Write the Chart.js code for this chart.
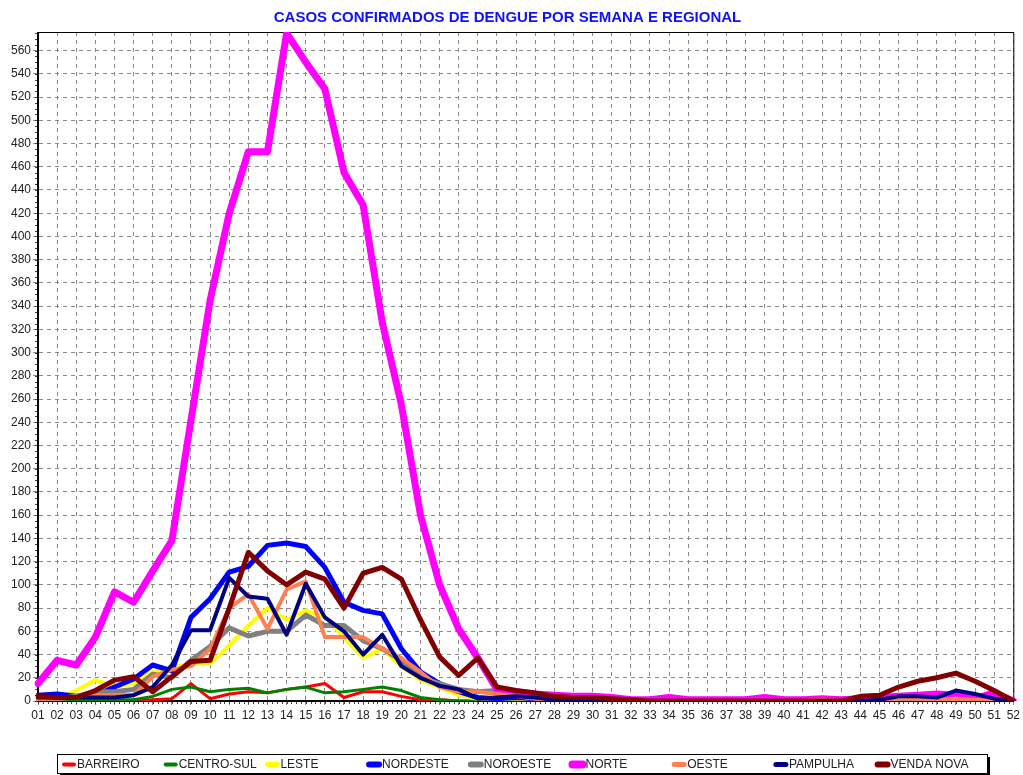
<!DOCTYPE html>
<html>
<head>
<meta charset="utf-8">
<script src="https://cdn.jsdelivr.net/npm/chart.js@4/dist/chart.umd.min.js"></script>
<style>
  html, body { margin: 0; padding: 0; background: #fff; }
  #wrap { width: 1023px; height: 775px; }
</style>
</head>
<body>
<div id="wrap"><canvas id="dengue_chart" width="1023" height="775"></canvas></div>
<script>
// semanas epidemiologicas
var semanas = [];
for (var s = 1; s <= 52; s++) semanas.push(s < 10 ? "0" + s : String(s));

var regionais = ["BARREIRO", "CENTRO-SUL", "LESTE", "NORDESTE", "NOROESTE", "NORTE", "OESTE", "PAMPULHA", "VENDA NOVA"];
var cores = ["#ff0000", "#008000", "#ffff00", "#0000ff", "#808080", "#ff00ff", "#ff7f50", "#000080", "#800000"];
var espessuras = [3, 3, 4, 5, 5, 7, 4, 4, 5];

// casos por semana (01..52)
var barreiro = [1, 1, 1, 0, 1, 0, 1, 2, 15, 2, 6, 8, 7, 10, 12, 15, 3, 8, 8, 4, 1, 1, 0, 0, 0, 0, 0, 0, 0, 0, 0, 0, 0, 0, 0, 0, 0, 0, 0, 0, 0, 0, 0, 0, 0, 0, 0, 0, 0, 0, 0, 0];
var centroSul = [1, 1, 1, 1, 1, 1, 4, 10, 12, 8, 10, 11, 7, 10, 12, 7, 8, 10, 12, 9, 3, 1, 0, 0, 0, 0, 0, 0, 0, 0, 0, 0, 0, 0, 0, 0, 0, 0, 0, 0, 0, 0, 0, 0, 0, 0, 0, 0, 0, 0, 0, 0];
var leste = [2, 3, 9, 18, 12, 15, 25, 29, 32, 32, 48, 65, 80, 70, 78, 72, 55, 37, 45, 30, 18, 12, 5, 2, 2, 2, 1, 0, 0, 0, 0, 0, 0, 0, 0, 0, 0, 0, 0, 0, 0, 0, 0, 0, 0, 1, 1, 0, 0, 0, 0, 0];
var nordeste = [5, 6, 4, 5, 12, 19, 31, 26, 72, 88, 111, 116, 134, 136, 133, 115, 85, 78, 75, 45, 25, 15, 8, 3, 2, 3, 2, 1, 1, 1, 0, 0, 0, 0, 0, 0, 0, 0, 1, 0, 0, 0, 0, 1, 1, 2, 2, 2, 4, 3, 1, 0];
var noroeste = [2, 2, 4, 8, 8, 10, 23, 20, 35, 47, 63, 56, 60, 60, 74, 65, 65, 52, 45, 35, 20, 15, 10, 8, 9, 5, 3, 1, 1, 0, 0, 0, 0, 0, 0, 0, 0, 0, 0, 0, 0, 0, 0, 0, 0, 1, 1, 1, 1, 1, 0, 0];
var norte = [15, 35, 31, 55, 94, 85, 112, 138, 242, 345, 420, 473, 473, 575, 550, 527, 455, 427, 326, 255, 160, 100, 62, 37, 10, 8, 6, 5, 4, 4, 3, 1, 1, 3, 1, 1, 1, 1, 3, 1, 1, 2, 1, 2, 3, 4, 5, 6, 5, 2, 7, 0];
var oeste = [2, 2, 3, 5, 5, 5, 21, 27, 30, 45, 80, 92, 62, 96, 103, 55, 55, 55, 45, 37, 25, 12, 8, 8, 6, 4, 2, 1, 1, 0, 0, 0, 0, 0, 0, 0, 0, 0, 0, 0, 0, 1, 0, 0, 0, 2, 2, 1, 2, 1, 0, 0];
var pampulha = [3, 3, 3, 3, 3, 5, 12, 31, 61, 61, 106, 90, 88, 57, 101, 72, 60, 40, 57, 30, 20, 13, 10, 2, 3, 4, 3, 1, 1, 1, 0, 0, 0, 0, 0, 0, 0, 0, 0, 0, 0, 0, 0, 0, 1, 4, 4, 3, 9, 6, 2, 0];
var vendaNova = [4, 3, 3, 9, 18, 21, 8, 21, 34, 35, 80, 128, 112, 100, 111, 105, 80, 110, 115, 105, 70, 38, 22, 37, 12, 9, 7, 4, 3, 3, 2, 1, 0, 0, 0, 0, 0, 0, 0, 0, 0, 0, 0, 4, 5, 12, 17, 20, 24, 17, 9, 0];

var series = [barreiro, centroSul, leste, nordeste, noroeste, norte, oeste, pampulha, vendaNova];

var datasets = regionais.map(function (nome, i) {
    return {
        label: nome,
        data: series[i],
        borderColor: cores[i],
        backgroundColor: cores[i],
        borderWidth: espessuras[i],
        order: regionais.length - i, // ultima regional desenhada por cima
    };
});

// moldura fina em cima e a direita, eixos pretos e risquinhos menores
var moldura = {
    id: "moldura",
    beforeDatasetsDraw: function (chart) {
        var a = chart.chartArea, ctx = chart.ctx;
        var x = chart.scales.x, y = chart.scales.y;
        ctx.save();
        ctx.setLineDash([]);
        ctx.strokeStyle = "#000";
        ctx.lineWidth = 1;
        ctx.beginPath();
        ctx.moveTo(a.left, a.top + 0.5);
        ctx.lineTo(a.right + 0.5, a.top + 0.5);
        ctx.lineTo(a.right + 0.5, a.bottom);
        ctx.stroke();
        ctx.strokeStyle = "#444";
        ctx.beginPath();
        for (var k = 0; k < semanas.length - 1; k += 0.25) {
            var px = Math.round(x.getPixelForValue(k)) + 0.5;
            ctx.moveTo(px, a.bottom);
            ctx.lineTo(px, a.bottom + 3);
        }
        for (var v = 0; v <= y.max; v += 5) {
            var py = Math.round(y.getPixelForValue(v)) + 0.5;
            ctx.moveTo(a.left - 3, py);
            ctx.lineTo(a.left, py);
        }
        ctx.stroke();
        ctx.lineWidth = 2;
        ctx.strokeStyle = "#000";
        ctx.beginPath();
        ctx.moveTo(a.left, a.top);
        ctx.lineTo(a.left, a.bottom);
        ctx.lineTo(a.right + 1, a.bottom);
        ctx.stroke();
        ctx.restore();
    },
};

// legenda em colunas fixas dentro de uma caixa com sombra
var legenda = {
    id: "legenda",
    afterDraw: function (chart) {
        var ctx = chart.ctx;
        var bx = 57, by = 754, bw = 930, bh = 19;
        ctx.save();
        ctx.fillStyle = "#000";
        ctx.fillRect(bx + 3, by + 3, bw, bh);
        ctx.fillStyle = "#fff";
        ctx.fillRect(bx, by, bw, bh);
        ctx.strokeStyle = "#000";
        ctx.lineWidth = 1;
        ctx.strokeRect(bx + 0.5, by + 0.5, bw, bh);
        ctx.font = "12px 'Liberation Sans', Arial, sans-serif";
        ctx.textBaseline = "middle";
        ctx.lineCap = "round";
        var cy = by + bh / 2 + 1;
        chart.data.datasets.forEach(function (ds, i) {
            var x0 = 64 + i * 101.7;
            ctx.strokeStyle = ds.borderColor;
            ctx.lineWidth = ds.borderWidth + 1;
            ctx.beginPath();
            ctx.moveTo(x0, cy);
            ctx.lineTo(x0 + 10, cy);
            ctx.stroke();
            ctx.fillStyle = "#222";
            ctx.fillText(ds.label, x0 + 13, cy);
        });
        ctx.restore();
    },
};

var grade = {
    color: "#8a8a8a",
    lineWidth: 1,
    tickBorderDash: [4, 4],
};
var borda = { color: "#8a8a8a", width: 1, dash: [4, 4] };

var dengueChart = new Chart("dengue_chart", {
    type: "line",
    data: {
        labels: semanas,
        datasets: datasets,
    },
    options: {
        responsive: false,
        animation: false,
        events: [],
        layout: {
            padding: { left: 0, right: 8, top: 0, bottom: 48 },
        },
        elements: {
            line: { tension: 0, borderJoinStyle: "round", borderCapStyle: "round" },
            point: { radius: 0 },
        },
        plugins: {
            legend: { display: false },
            tooltip: { enabled: false },
            title: {
                display: true,
                text: "CASOS CONFIRMADOS DE DENGUE POR SEMANA E REGIONAL",
                color: "#1010ff",
                font: { family: "'Liberation Sans', Arial, sans-serif", size: 15, weight: "bold" },
                padding: { top: 9, bottom: 5 },
            },
        },
        scales: {
            x: {
                grid: Object.assign({ tickLength: 4 }, grade),
                border: borda,
                ticks: {
                    color: "#222",
                    padding: 3,
                    maxRotation: 0,
                    autoSkip: false,
                    font: { family: "'Liberation Sans', Arial, sans-serif", size: 12 },
                },
                afterFit: function (scale) { scale.height = 26; },
            },
            y: {
                min: 0,
                max: 576,
                grid: Object.assign({ tickLength: 5 }, grade),
                border: borda,
                ticks: {
                    stepSize: 20,
                    includeBounds: false,
                    color: "#222",
                    padding: 2,
                    font: { family: "'Liberation Sans', Arial, sans-serif", size: 12 },
                },
                afterFit: function (scale) { scale.width = 38; },
            },
        },
    },
    plugins: [moldura, legenda],
});
</script>
</body>
</html>
